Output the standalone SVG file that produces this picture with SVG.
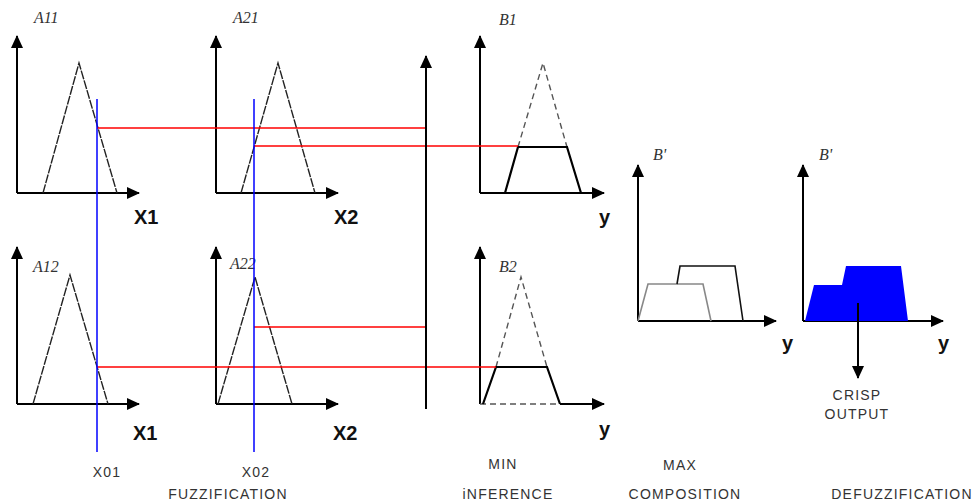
<svg xmlns="http://www.w3.org/2000/svg" width="977" height="504" viewBox="0 0 977 504">
<defs>
<marker id="ah" markerUnits="userSpaceOnUse" markerWidth="14" markerHeight="12" refX="12" refY="6" orient="auto">
<path d="M0,0 L13,6 L0,12 Z" fill="#000"/>
</marker>
<style>
.ax{fill:none;stroke:#000;stroke-width:2;marker-end:url(#ah)}
.tri{fill:none;stroke:#222;stroke-width:1.4;stroke-dasharray:9 1.2}
.dtri{fill:none;stroke:#555;stroke-width:1.4;stroke-dasharray:6 4}
.trap{fill:none;stroke:#000;stroke-width:2.2}
.red{stroke:#f00;stroke-width:1.5;fill:none}
.blue{stroke:#00f;stroke-width:1.5;fill:none}
.lbl{font-family:"Liberation Serif",serif;font-style:italic;font-size:16px;fill:#333}
.var{font-family:"Liberation Sans",Arial,sans-serif;font-weight:bold;font-size:20px;fill:#111}
.cap{font-family:"Liberation Sans",Arial,sans-serif;font-size:14px;fill:#333;letter-spacing:1.2px;text-anchor:middle}
</style>
</defs>

<g id="A11">
<path class="ax" d="M17,193 V36"/>
<path class="ax" d="M17,193 H139"/>
<path class="tri" d="M43,193 L79,63 L117,193"/>
<text class="lbl" x="34" y="23">A11</text>
<text class="var" x="134" y="224">X1</text>
</g>

<g id="A21">
<path class="ax" d="M216,193 V36"/>
<path class="ax" d="M216,193 H338"/>
<path class="tri" d="M241,193 L278,63 L315,193"/>
<text class="lbl" x="233" y="23">A21</text>
<text class="var" x="334" y="224">X2</text>
</g>

<g id="A12">
<path class="ax" d="M17,404 V247"/>
<path class="ax" d="M17,404 H139"/>
<path class="tri" d="M33,404 L70,275 L108,404"/>
<text class="lbl" x="33" y="272">A12</text>
<text class="var" x="133" y="440">X1</text>
</g>

<g id="A22">
<path class="ax" d="M216,404 V247"/>
<path class="ax" d="M216,404 H338"/>
<path class="tri" d="M218,404 L255,277 L292,404"/>
<text class="lbl" x="230" y="269">A22</text>
<text class="var" x="333" y="440">X2</text>
</g>

<g id="B1">
<path class="ax" d="M480,193 V36"/>
<path class="ax" d="M480,193 H604"/>
<path class="dtri" d="M518,147 L543,63 L567,147"/>
<path class="trap" d="M505,193 L518,147 L567,147 L581,193"/>
<text class="lbl" x="499" y="25">B1</text>
<text class="var" x="599" y="224">y</text>
</g>

<g id="B2">
<path class="ax" d="M480,404 V247"/>
<path class="ax" d="M560,404 H604"/>
<path class="dtri" d="M480,404 H560"/>
<path class="dtri" d="M496,367 L521,277 L547,367"/>
<path class="trap" d="M483,404 L496,367 L547,367 L560,404"/>
<text class="lbl" x="499" y="272">B2</text>
<text class="var" x="599" y="436">y</text>
</g>

<g id="MAX">
<path class="ax" d="M638,321 V165"/>
<path class="ax" d="M638,321 H776"/>
<path d="M638,321 L648,284 L703,284 L711,321" fill="none" stroke="#888" stroke-width="1.6"/>
<path d="M677,284 L680,266 L735,266 L743,321" fill="none" stroke="#111" stroke-width="1.6"/>
<text class="lbl" x="653" y="160">B'</text>
<text class="var" x="782" y="350">y</text>
</g>

<g id="DEFUZZ">
<path class="ax" d="M803,321 V165"/>
<path class="ax" d="M803,321 H943"/>
<path d="M805,321 L814,285 L842,285 L846,266 L901,266 L908,321 Z" fill="#0000ff"/>
<path class="ax" d="M858,303 V378" stroke-width="3"/>
<text class="lbl" x="819" y="160">B'</text>
<text class="var" x="938" y="350">y</text>
</g>

<g id="connectors">
<path class="red" d="M97,128 H427"/>
<path class="red" d="M254,146 H518"/>
<path class="red" d="M254,327 H427"/>
<path class="red" d="M97,367 H496"/>
<path class="blue" d="M97,99 V452"/>
<path class="blue" d="M254,99 V452"/>
<path class="ax" d="M426,409 V56"/>
</g>

<g id="captions">
<text class="cap" x="107" y="477">X01</text>
<text class="cap" x="256" y="477">X02</text>
<text class="cap" x="228" y="499">FUZZIFICATION</text>
<text class="cap" x="503" y="469">MIN</text>
<text class="cap" x="508" y="499">iNFERENCE</text>
<text class="cap" x="680" y="470">MAX</text>
<text class="cap" x="685" y="499">COMPOSITION</text>
<text class="cap" x="902" y="499">DEFUZZIFICATION</text>
<text class="cap" x="857" y="400">CRISP</text>
<text class="cap" x="857" y="419">OUTPUT</text>
</g>
</svg>
